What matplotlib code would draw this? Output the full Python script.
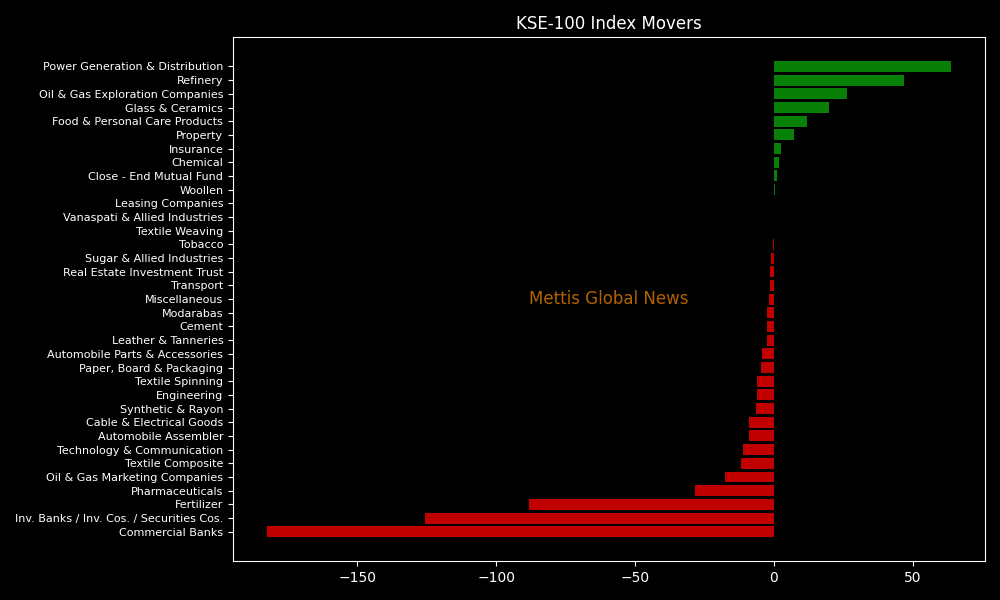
import matplotlib
matplotlib.use('Agg')
import matplotlib.pyplot as plt

sectors = [
    'Commercial Banks', 'Inv. Banks / Inv. Cos. / Securities Cos.', 'Fertilizer',
    'Pharmaceuticals', 'Oil & Gas Marketing Companies', 'Textile Composite',
    'Technology & Communication', 'Automobile Assembler', 'Cable & Electrical Goods',
    'Synthetic & Rayon', 'Engineering', 'Textile Spinning', 'Paper, Board & Packaging',
    'Automobile Parts & Accessories', 'Leather & Tanneries', 'Cement', 'Modarabas',
    'Miscellaneous', 'Transport', 'Real Estate Investment Trust', 'Sugar & Allied Industries',
    'Tobacco', 'Textile Weaving', 'Vanaspati & Allied Industries', 'Leasing Companies',
    'Woollen', 'Close - End Mutual Fund', 'Chemical', 'Insurance', 'Property',
    'Food & Personal Care Products', 'Glass & Ceramics', 'Oil & Gas Exploration Companies',
    'Refinery', 'Power Generation & Distribution',
]
points = [
    -182.5, -125.7, -88.2, -28.4, -17.6, -11.9, -11.2, -9.0, -9.0, -6.5, -6.1, -6.1,
    -4.7, -4.3, -2.5, -2.5, -2.5, -1.8, -1.4, -1.4, -1.1, -0.3, 0.0, 0.0, 0.0,
    0.3, 1.1, 1.8, 2.5, 7.2, 11.9, 19.8, 26.3, 46.8, 63.7,
]

plt.style.use('dark_background')
fig, ax = plt.subplots(figsize=(10, 6), dpi=100)
fig.subplots_adjust(left=0.233, right=0.985, top=0.938, bottom=0.065)

colors = ['#088008' if p > 0 else '#c00000' for p in points]
ax.barh(sectors, points, color=colors)
ax.tick_params(axis='y', labelsize=8)
ax.set_title('KSE-100 Index Movers')
ax.text(0.5, 0.5, 'Mettis Global News', transform=ax.transAxes, ha='center', va='center',
        fontsize=12, color='darkorange', alpha=0.7)

plt.savefig('out.png')
